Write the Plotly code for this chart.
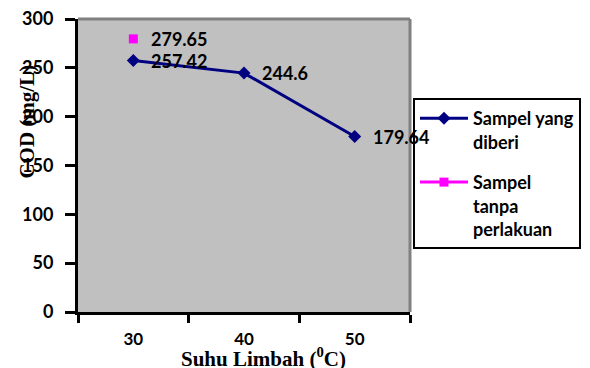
import plotly.graph_objects as go

# Data
suhu = ["30", "40", "50"]
cod_diberi = [257.42, 244.6, 179.64]
suhu_tanpa = ["30"]
cod_tanpa = [279.65]

series_names = ["Sampel yang<br>diberi", "Sampel<br>tanpa<br>perlakuan"]
y_ticks = [0, 50, 100, 150, 200, 250, 300]

NAVY = "#000080"
MAGENTA = "#ff00ff"
LABEL_FONT = dict(family="Lato", size=18, color="black", weight="bold")

fig = go.Figure()

fig.add_trace(go.Scatter(
    x=suhu, y=cod_diberi, name=series_names[0], mode="lines+markers",
    line=dict(color=NAVY, width=3),
    marker=dict(symbol="diamond", size=10, color=NAVY),
    legendgroup="a",
))
fig.add_trace(go.Scatter(
    x=suhu_tanpa, y=cod_tanpa, name=series_names[1], mode="lines+markers",
    line=dict(color=MAGENTA, width=3),
    marker=dict(symbol="square", size=9, color=MAGENTA),
    legendgroup="b",
))

# Value labels beside each point (category axis positions are indices)
for xs, ys in ((suhu, cod_diberi), (suhu_tanpa, cod_tanpa)):
    for xv, yv in zip(xs, ys):
        fig.add_annotation(x=suhu.index(xv), y=yv, text=f"{yv:g}", showarrow=False,
                           xanchor="left", yanchor="middle", xshift=16,
                           font=LABEL_FONT)

# Gray frame on the top and right of the plot area
fig.add_shape(type="line", xref="x domain", yref="y domain",
              x0=0, x1=1, y0=1, y1=1, line=dict(color="#808080", width=3))
fig.add_shape(type="line", xref="x domain", yref="y domain",
              x0=1, x1=1, y0=0, y1=1, line=dict(color="#808080", width=3))

# Axis titles
fig.add_annotation(text="COD (mg/L)", xref="paper", yref="paper",
                   x=0, y=0.65, xshift=-51, xanchor="center", yanchor="middle",
                   textangle=-90, showarrow=False,
                   font=dict(family="Liberation Serif", size=21, color="black", weight="bold"))
fig.add_annotation(text="Suhu Limbah (<sup>0</sup>C)", xref="paper", yref="paper",
                   x=0.56, y=0, yshift=-45, xanchor="center", yanchor="middle",
                   showarrow=False,
                   font=dict(family="Liberation Serif", size=21, color="black", weight="bold"))

fig.update_layout(
    width=590, height=368,
    margin=dict(l=78, r=180, t=19, b=56, autoexpand=False),
    paper_bgcolor="white",
    plot_bgcolor="#c0c0c0",
    showlegend=True,
    legend=dict(
        x=1.009, y=0.73, xanchor="left", yanchor="top",
        bgcolor="white", bordercolor="black", borderwidth=2,
        font=dict(family="Lato", size=18, color="black", weight="bold"),
        traceorder="grouped", tracegroupgap=14, valign="top",
        itemwidth=48,
    ),
    xaxis=dict(
        type="category", range=[-0.5, 2.5], tickson="boundaries",
        showgrid=False, zeroline=False, automargin=False,
        showline=True, linecolor="black", linewidth=3,
        ticks="outside", ticklen=8, tickwidth=3, tickcolor="black",
        ticklabelstandoff=10,
        tickfont=LABEL_FONT | dict(size=17),
    ),
    yaxis=dict(
        range=[0, 300], tickvals=y_ticks,
        showgrid=False, zeroline=False, automargin=False,
        showline=True, linecolor="black", linewidth=3,
        ticks="outside", ticklen=10, tickwidth=3, tickcolor="black",
        ticklabelstandoff=8,
        tickfont=LABEL_FONT | dict(size=18),
    ),
)

fig.write_html("out.html")
